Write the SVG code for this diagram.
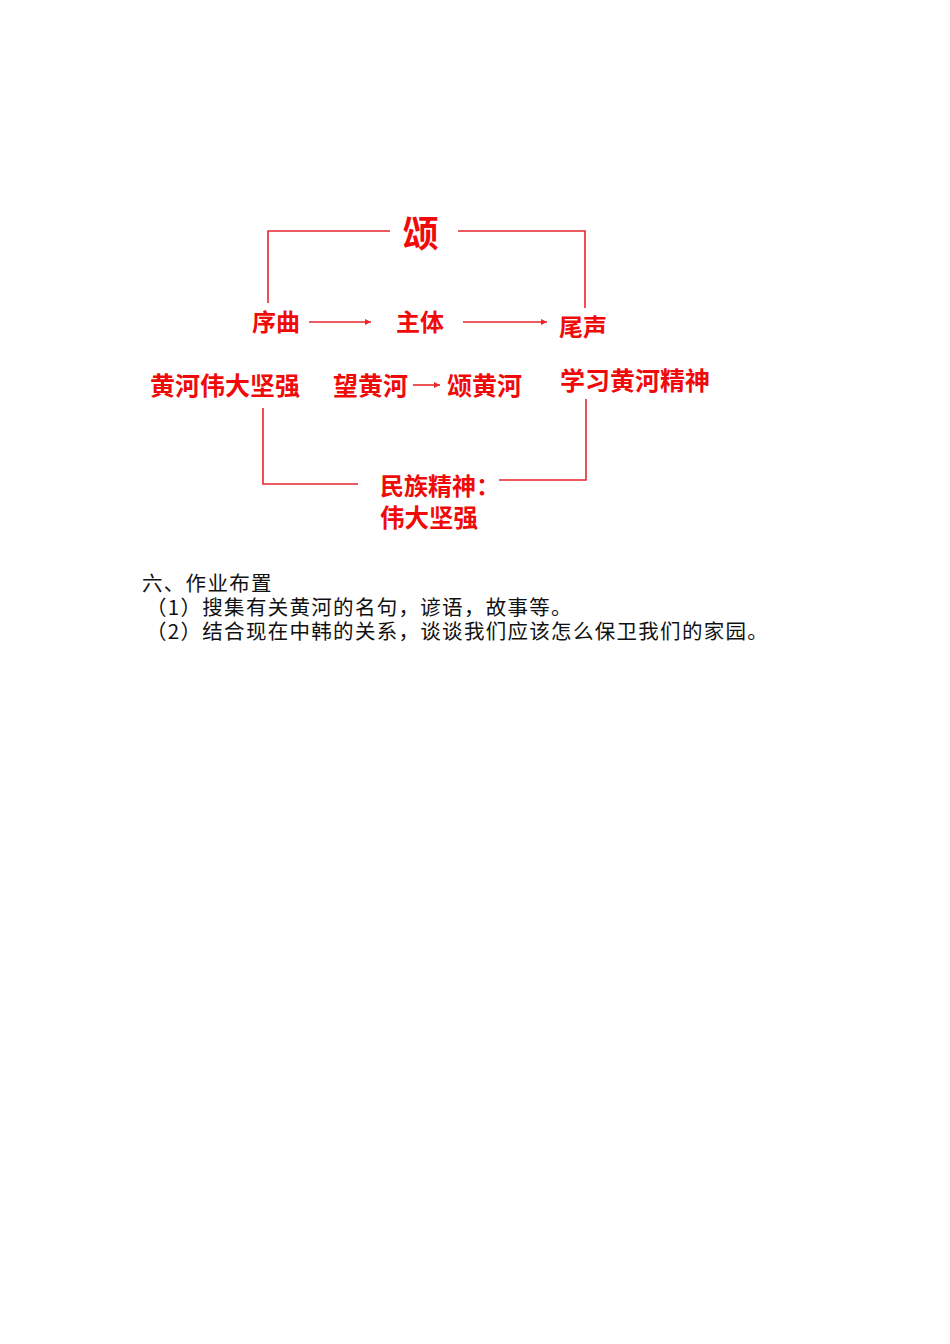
<svg xmlns="http://www.w3.org/2000/svg" width="950" height="1344" viewBox="0 0 950 1344">
<style>
.r{font-family:"Noto Sans CJK SC","Liberation Sans",sans-serif;font-weight:bold;fill:#f00a0a}
.b{font-family:"Noto Sans CJK SC","Liberation Sans",sans-serif;font-size:20.5px;letter-spacing:1.3px;fill:#111}
.ln{fill:none;stroke:#e8262c;stroke-width:1.6}
.ar{fill:none;stroke:#e8262c;stroke-width:1.6;marker-end:url(#ah)}
</style>
<defs>
<marker id="ah" markerWidth="8" markerHeight="8" refX="6" refY="3" orient="auto" markerUnits="userSpaceOnUse">
<path d="M0,0 L6,3 L0,6 Z" fill="#e8262c"/>
</marker>
</defs>
<rect width="950" height="1344" fill="#fff"/>
<g id="connectors">
<polyline class="ln" points="390,231 268,231 268,303"/>
<polyline class="ln" points="458,231 585,231 585,308"/>
<line class="ar" x1="309" y1="322" x2="371" y2="322"/>
<line class="ar" x1="463" y1="322" x2="547" y2="322"/>
<line class="ar" x1="413" y1="385" x2="440" y2="385"/>
<polyline class="ln" points="263,408 263,484 358,484"/>
<polyline class="ln" points="586,399 586,480 499,480"/>
</g>
<g id="song"><text class="r" x="420.5" y="247" font-size="36" text-anchor="middle">颂</text></g>
<g id="xuqu"><text class="r" x="252" y="331" font-size="24">序曲</text></g>
<g id="zhuti"><text class="r" x="396" y="331" font-size="24">主体</text></g>
<g id="weisheng"><text class="r" x="559" y="336" font-size="24">尾声</text></g>
<g id="huanghe-weida"><text class="r" x="150" y="395" font-size="25">黄河伟大坚强</text></g>
<g id="wang-huanghe"><text class="r" x="333" y="395" font-size="25">望黄河</text></g>
<g id="song-huanghe"><text class="r" x="447" y="395" font-size="25">颂黄河</text></g>
<g id="xuexi"><text class="r" x="560" y="390" font-size="25">学习黄河精神</text></g>
<g id="minzu"><text class="r" x="380" y="495" font-size="24">民族精神：</text><text class="r" x="380" y="527" font-size="24.5">伟大坚强</text></g>
<g id="homework">
<text class="b" x="142" y="591">六、作业布置</text>
<text class="b" x="146" y="615">（1）搜集有关黄河的名句，谚语，故事等。</text>
<text class="b" x="146" y="639">（2）结合现在中韩的关系，谈谈我们应该怎么保卫我们的家园。</text>
</g>
</svg>
